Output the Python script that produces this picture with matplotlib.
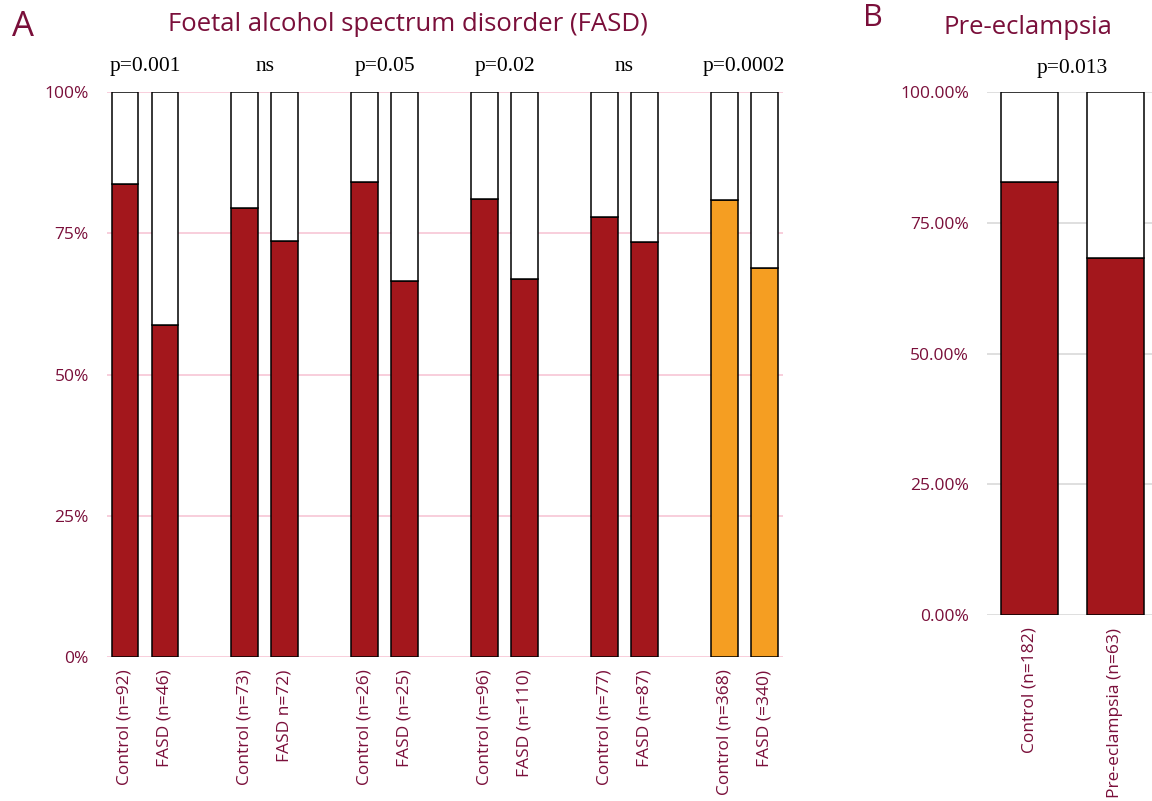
"""Stacked proportion bars: FASD cohorts (A) and pre-eclampsia (B)."""

import matplotlib
import matplotlib.pyplot as plt
from matplotlib.ticker import FuncFormatter

matplotlib.use("Agg")

# Panel A data (fraction in lower, coloured segment)
fasd_labels = [
    "Control (n=92)", "FASD (n=46)",
    "Control (n=73)", "FASD n=72)",
    "Control (n=26)", "FASD (n=25)",
    "Control (n=96)", "FASD (n=110)",
    "Control (n=77)", "FASD (n=87)",
    "Control (n=368)", "FASD (=340)",
]
fasd_values = [0.837, 0.587, 0.795, 0.736, 0.841, 0.666,
               0.811, 0.669, 0.779, 0.735, 0.809, 0.688]
fasd_pvalues = ["p=0.001", "ns", "p=0.05", "p=0.02", "ns", "p=0.0002"]
fasd_pooled = [False, False, False, False, False, True]

# Panel B data
pe_labels = ["Control (n=182)", "Pre-eclampsia (n=63)"]
pe_values = [0.828, 0.683]
pe_pvalue = "p=0.013"

MAROON = "#7A0F3A"
RED = "#A3171C"
ORANGE = "#F59E22"
SANS = ["Open Sans", "DejaVu Sans"]
SERIF = ["Liberation Serif", "DejaVu Serif"]

fig = plt.figure(figsize=(11.52, 8.01), dpi=100)

# ---- Panel A ----
ax = fig.add_axes([0.0929, 0.1798, 0.5868, 0.7053])
positions = []
for g in range(len(fasd_pvalues)):
    positions += [g * 3, g * 3 + 1]
width = 0.67
for i, (x, v) in enumerate(zip(positions, fasd_values)):
    color = ORANGE if fasd_pooled[i // 2] else RED
    ax.bar(x, v, width, color=color, edgecolor="black", linewidth=1.1, zorder=3)
    ax.bar(x, 1 - v, width, bottom=v, color="white", edgecolor="black",
           linewidth=1.1, zorder=3)
for g, p in enumerate(fasd_pvalues):
    ax.text(g * 3 + 0.5, 1.045, p, ha="center", va="center", fontsize=15.5,
            family=SERIF, color="black")
ax.set_xlim(-0.45, 16.47)
ax.set_ylim(0, 1)
ax.set_yticks([0, 0.25, 0.5, 0.75, 1.0])
ax.yaxis.set_major_formatter(FuncFormatter(lambda v, _: f"{v * 100:.0f}%"))
ax.grid(axis="y", color="#F7C6D6", linewidth=1.2, zorder=0)
ax.set_xticks(positions)
ax.set_xticklabels(fasd_labels, rotation=90, family=SANS, fontsize=12.5, color=MAROON)
ax.tick_params(length=0, pad=9)
ax.tick_params(axis="y", labelsize=12.5, labelcolor=MAROON, pad=13)
for lbl in ax.get_yticklabels():
    lbl.set_family(SANS)
for s in ax.spines.values():
    s.set_visible(False)

# ---- Panel B ----
bx = fig.add_axes([0.8568, 0.2322, 0.1432, 0.6529])
for x, v in enumerate(pe_values):
    bx.bar(x, v, width, color=RED, edgecolor="black", linewidth=1.1, zorder=3)
    bx.bar(x, 1 - v, width, bottom=v, color="white", edgecolor="black",
           linewidth=1.1, zorder=3)
bx.text(0.5, 1.045, pe_pvalue, ha="center", va="center", fontsize=15.5,
        family=SERIF, color="black")
bx.set_xlim(-0.5, 1.43)
bx.set_ylim(0, 1)
bx.set_yticks([0, 0.25, 0.5, 0.75, 1.0])
bx.yaxis.set_major_formatter(FuncFormatter(lambda v, _: f"{v * 100:.2f}%"))
bx.grid(axis="y", color="#D9D9D9", linewidth=1.2, zorder=0)
bx.set_xticks(range(len(pe_labels)))
bx.set_xticklabels(pe_labels, rotation=90, family=SANS, fontsize=12.5, color=MAROON)
bx.tick_params(length=0, pad=9)
bx.tick_params(axis="y", labelsize=12.5, labelcolor=MAROON, pad=13)
for lbl in bx.get_yticklabels():
    lbl.set_family(SANS)
for s in bx.spines.values():
    s.set_visible(False)

# ---- Titles and panel letters ----
fig.text(0.010, 0.966, "A", fontsize=25, color=MAROON, family=SANS, va="center")
fig.text(0.354, 0.970, "Foetal alcohol spectrum disorder (FASD)", fontsize=18.5,
         color=MAROON, family=SANS, ha="center", va="center")
fig.text(0.749, 0.977, "B", fontsize=22, color=MAROON, family=SANS, va="center")
fig.text(0.892, 0.966, "Pre-eclampsia", fontsize=18.5, color=MAROON, family=SANS,
         ha="center", va="center")

fig.savefig("out.png", dpi=100)
plt.close(fig)
